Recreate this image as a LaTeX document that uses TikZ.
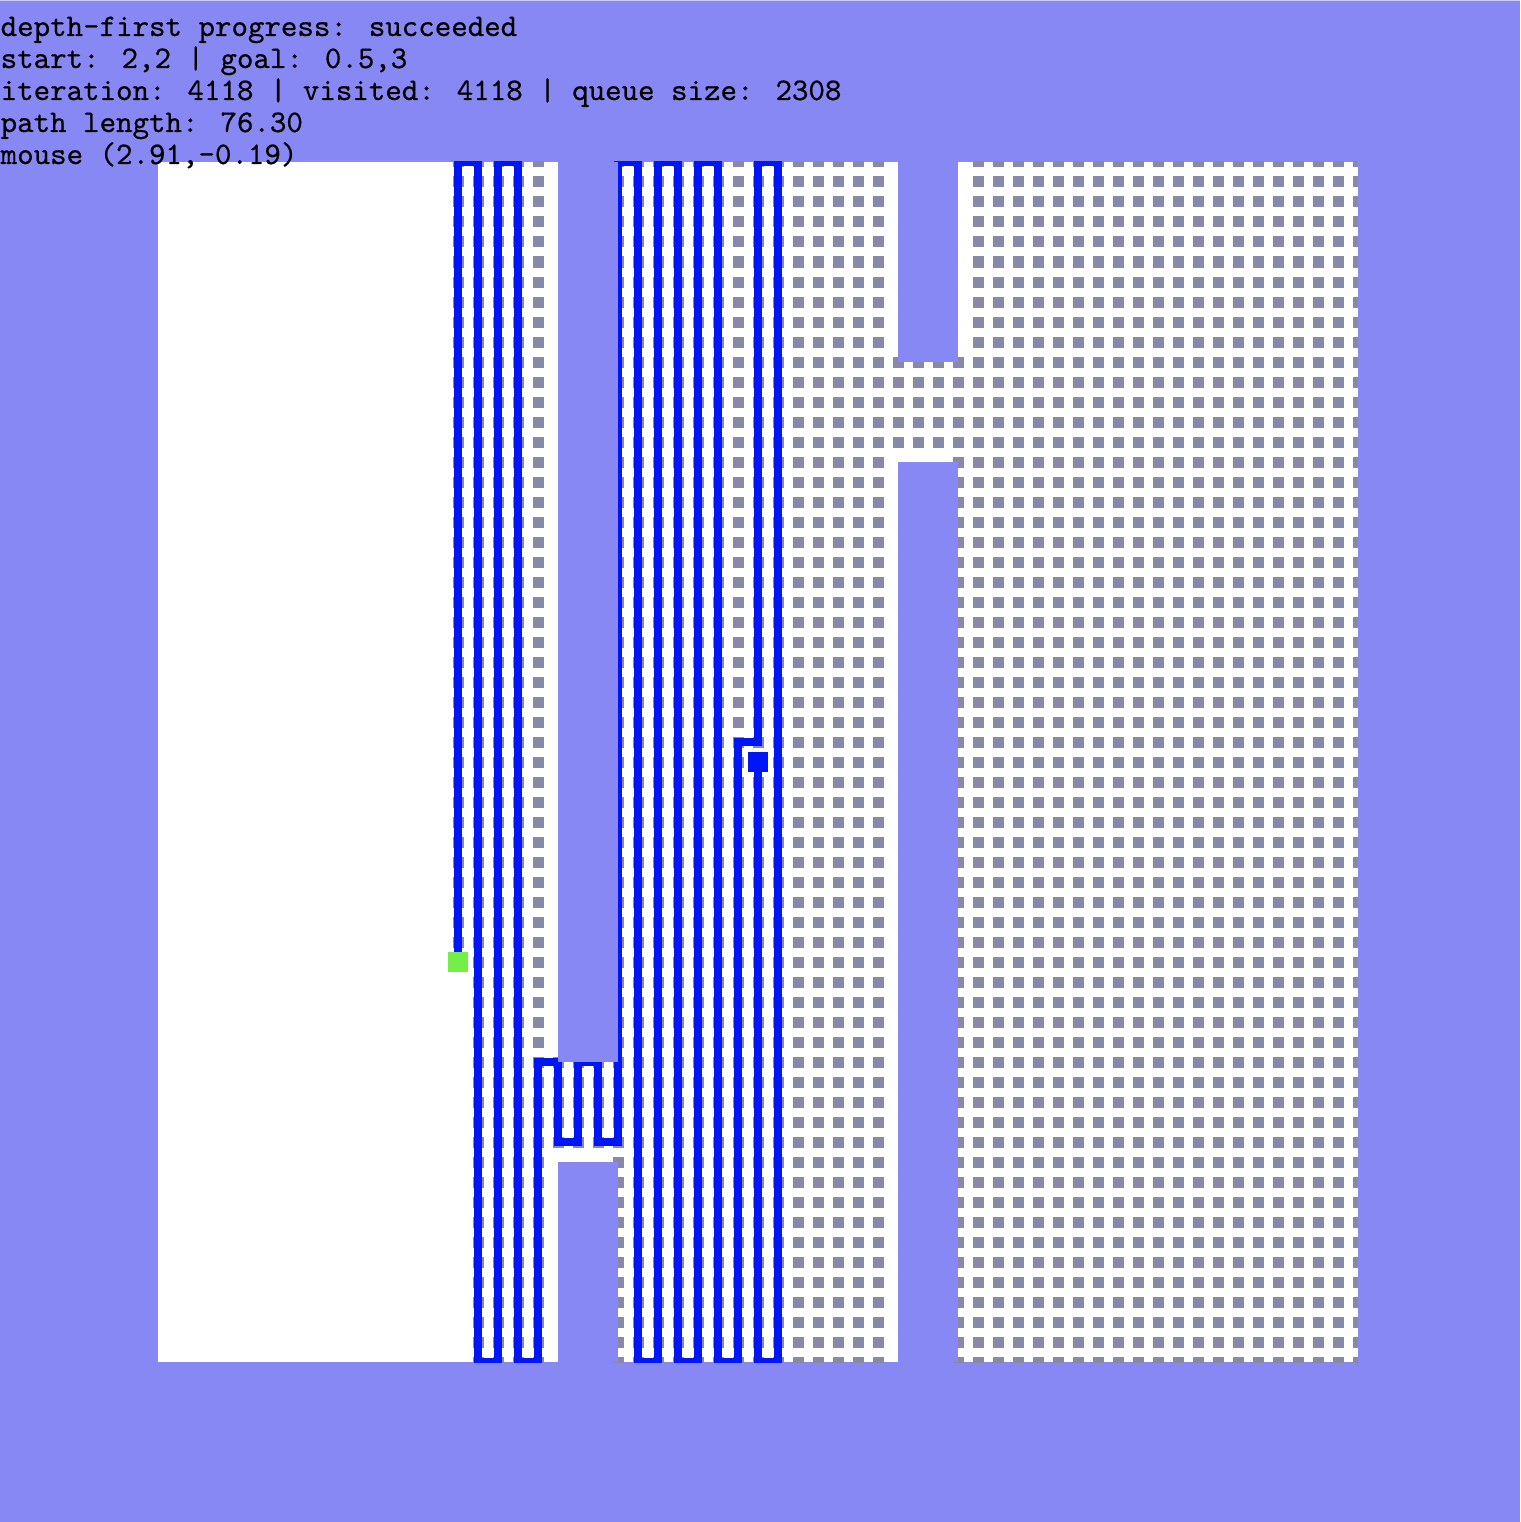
\documentclass[tikz,border=0pt]{standalone}
\usepackage{fontspec}
\newfontfamily\hudfont{lmmono10-regular.otf}[FakeBold=0.5]
\definecolor{bg}{RGB}{136,136,245}
\definecolor{dotc}{RGB}{136,136,168}
\definecolor{pathc}{RGB}{0,22,245}
\definecolor{startc}{RGB}{118,238,72}
\newcommand\hudcol[3]{\foreach \j in {#2,...,#3} {\fill[dotc] ({158+20*#1-5.5},{162+20*\j-5.5}) rectangle ++(11,11);}}
\tikzset{
  hud/.style={font=\hudfont\fontsize{31.4}{32}\selectfont, inner sep=0pt, text=black, anchor=base west},
  wall/.style={fill=bg},
  route/.style={draw=pathc, line width=7.5pt, line join=miter},
}
\begin{document}
\begin{tikzpicture}[x=1pt,y=-1pt]
\useasboundingbox (0,0) rectangle (1520,1522);
\fill[bg] (0,0) rectangle (1520,1522);
\fill[white!55!bg] (0,0) rectangle (1520,1.5);
\fill[white] (158,162) rectangle (1358,1362);
\begin{scope}
\clip (158,162) rectangle (1358,1362);
% visited cells
\hudcol{15}{0}{40}
\foreach \i in {16,...,19} {\hudcol{\i}{0}{60}}
\foreach \i in {20,21,22} {\hudcol{\i}{45}{49}}
\foreach \i in {23,...,36} {\hudcol{\i}{0}{60}}
\foreach \i in {37,38,39} {\hudcol{\i}{10}{14}}
\hudcol{40}{10}{60}
\foreach \i in {41,...,60} {\hudcol{\i}{0}{60}}
% path
\coordinate (s) at (458,962);
\coordinate (g) at (758,762);
\draw[route] (s) -- (458,162) -- (478,162) -- (478,1362) -- (498,1362) -- (498,162)
  -- (518,162) -- (518,1362) -- (538,1362) -- (538,1062) -- (558,1062) -- (558,1142)
  -- (578,1142) -- (578,1062) -- (598,1062) -- (598,1142) -- (618,1142) -- (618,162)
  -- (638,162) -- (638,1362) -- (658,1362) -- (658,162) -- (678,162) -- (678,1362)
  -- (698,1362) -- (698,162) -- (718,162) -- (718,1362) -- (738,1362) -- (738,742)
  -- (758,742) -- (758,162) -- (778,162) -- (778,1362) -- (758,1362) -- (g);
\end{scope}
% obstacles
\fill[wall] (558,162) rectangle (618,1062);
\fill[wall] (558,1162) rectangle (618,1362);
\fill[wall] (898,162) rectangle (958,362);
\fill[wall] (898,462) rectangle (958,1362);
% start and goal
\fill[startc] (448,952) rectangle (468,972);
\fill[pathc] (748,752) rectangle (768,772);
% status text
\node[hud] (l1) at (0.5,36) {depth-first progress: succeeded};
\node[hud] (l2) at (0.5,68) {start: 2,2 | goal: 0.5,3};
\node[hud] (l3) at (0.5,100) {iteration: 4118 | visited: 4118 | queue size: 2308};
\node[hud] (l4) at (0.5,132) {path length: 76.30};
\node[hud] (l5) at (0.5,164) {mouse (2.91,-0.19)};
\end{tikzpicture}
\end{document}
